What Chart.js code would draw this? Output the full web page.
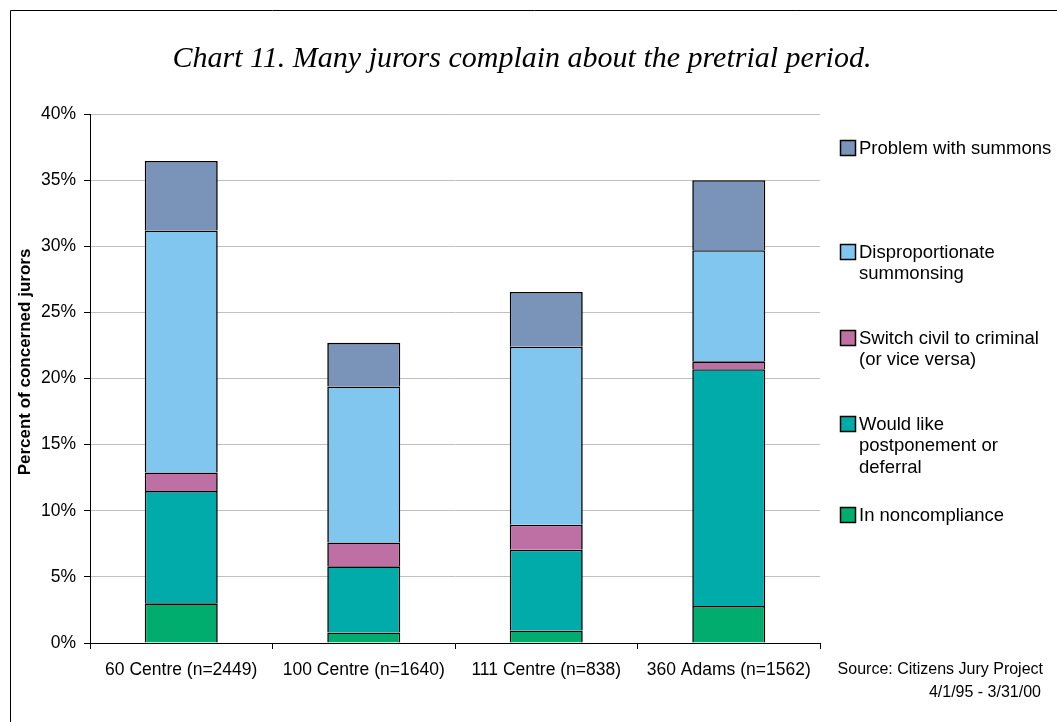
<!DOCTYPE html>
<html>
<head>
<meta charset="utf-8">
<title>Chart 11</title>
<script src="https://cdn.jsdelivr.net/npm/chart.js@4/dist/chart.umd.min.js"></script>
<style>
  html, body { margin: 0; padding: 0; background: #ffffff; }
  #wrap { width: 1057px; height: 722px; position: relative; }
</style>
</head>
<body>
<div id="wrap"><canvas id="c" width="1057" height="722"></canvas></div>
<script>
// Courthouse locations (with sample sizes)
const categories = ['60 Centre (n=2449)', '100 Centre (n=1640)', '111 Centre (n=838)', '360 Adams (n=1562)'];

// Percent of concerned jurors per complaint, stacked bottom to top
const inNoncompliance   = [3.0, 0.8, 0.95, 2.8];
const wouldPostpone     = [8.5, 5.0, 6.1, 17.9];
const switchCivil       = [1.4, 1.8, 1.9, 0.6];
const disproportionate  = [18.3, 11.8, 13.45, 8.4];
const problemSummons    = [5.25, 3.3, 4.15, 5.3];

const seriesLabels = [
  ['In noncompliance'],
  ['Would like', 'postponement or', 'deferral'],
  ['Switch civil to criminal', '(or vice versa)'],
  ['Disproportionate', 'summonsing'],
  ['Problem with summons']
];
const seriesColors = ['#00AD6E', '#00ABA9', '#BE6FA4', '#80C6EE', '#7A93B8'];

const yTicks = [0, 5, 10, 15, 20, 25, 30, 35, 40];

const chartTitle = 'Chart 11. Many jurors complain about the pretrial period.';
const yAxisTitle = 'Percent of concerned jurors';
const sourceLines = ['Source: Citizens Jury Project', '4/1/95 - 3/31/00'];

const seriesValues = [inNoncompliance, wouldPostpone, switchCivil, disproportionate, problemSummons];

// each segment skips its base edge so stacked joins show a single outline
const datasets = seriesValues.map((vals, i) => ({
  label: seriesLabels[i].join(' '),
  data: vals,
  backgroundColor: seriesColors[i],
  borderColor: '#000000',
  borderWidth: 1.6,
  borderSkipped: 'start',
  barPercentage: 0.4,
  categoryPercentage: 1.0
}));

const SANS = '"Liberation Sans", Arial, sans-serif';

// Frame, title, axis title, legend and source note
const decorations = {
  id: 'decorations',
  beforeDraw(chart) {
    const ctx = chart.ctx;
    ctx.save();
    ctx.fillStyle = '#ffffff';
    ctx.fillRect(0, 0, chart.width, chart.height);
    ctx.restore();
  },
  afterDraw(chart) {
    const ctx = chart.ctx;
    ctx.save();

    // outer frame
    ctx.strokeStyle = '#000000';
    ctx.lineWidth = 1;
    ctx.beginPath();
    ctx.moveTo(10.5, chart.height + 2);
    ctx.lineTo(10.5, 10.5);
    ctx.lineTo(chart.width + 2, 10.5);
    ctx.stroke();

    // title
    ctx.fillStyle = '#000000';
    ctx.font = 'italic 30px "Liberation Serif", "DejaVu Serif", serif';
    ctx.textAlign = 'center';
    ctx.textBaseline = 'middle';
    ctx.fillText(chartTitle, 522, 59);

    // y axis title
    ctx.save();
    ctx.translate(25, 362);
    ctx.rotate(-Math.PI / 2);
    ctx.font = 'bold 17px ' + SANS;
    ctx.textAlign = 'center';
    ctx.textBaseline = 'middle';
    ctx.fillText(yAxisTitle, 0, 0);
    ctx.restore();

    // legend (top entry first)
    const tops = [140, 244, 330, 416, 507];
    const order = [4, 3, 2, 1, 0];
    ctx.font = '18.5px ' + SANS;
    ctx.textAlign = 'left';
    ctx.textBaseline = 'middle';
    order.forEach((dsIndex, k) => {
      const ds = chart.data.datasets[dsIndex];
      const y0 = tops[k];
      ctx.fillStyle = ds.backgroundColor;
      ctx.fillRect(840.5, y0 + 0.5, 15, 15);
      ctx.strokeStyle = '#000000';
      ctx.lineWidth = 1.5;
      ctx.strokeRect(840.5, y0 + 0.5, 15, 15);
      ctx.fillStyle = '#000000';
      seriesLabels[dsIndex].forEach((line, j) => {
        ctx.fillText(line, 859, y0 + 8.5 + j * 21.5);
      });
    });

    // source note
    ctx.font = '16px ' + SANS;
    ctx.textAlign = 'right';
    ctx.textBaseline = 'middle';
    ctx.fillText(sourceLines[0], 1043, 670);
    ctx.fillText(sourceLines[1], 1041, 693);

    ctx.restore();
  }
};

new Chart(document.getElementById('c'), {
  type: 'bar',
  data: { labels: categories, datasets: datasets },
  plugins: [decorations],
  options: {
    responsive: false,
    animation: false,
    layout: { padding: { left: 0, top: 114, right: 237, bottom: 0 } },
    plugins: {
      legend: { display: false },
      title: { display: false },
      tooltip: { enabled: false }
    },
    scales: {
      x: {
        stacked: true,
        offset: true,
        afterFit(scale) { scale.height = 79; },
        grid: {
          display: true,
          drawOnChartArea: false,
          drawTicks: true,
          tickLength: 6,
          color: '#000000',
          offset: true
        },
        border: { display: true, color: '#000000', width: 1 },
        ticks: {
          color: '#000000',
          padding: 11,
          maxRotation: 0,
          font: { family: SANS, size: 17.5 }
        }
      },
      y: {
        stacked: true,
        min: 0,
        max: 40,
        afterFit(scale) { scale.width = 90; },
        afterBuildTicks(scale) { scale.ticks = yTicks.map(v => ({ value: v })); },
        grid: {
          color: '#c0c0c0',
          tickColor: '#000000',
          drawTicks: true,
          tickLength: 6
        },
        border: { display: true, color: '#000000', width: 1 },
        ticks: {
          color: '#000000',
          padding: 8,
          font: { family: SANS, size: 17.5 },
          callback: v => v + '%'
        }
      }
    }
  }
});
</script>
</body>
</html>
